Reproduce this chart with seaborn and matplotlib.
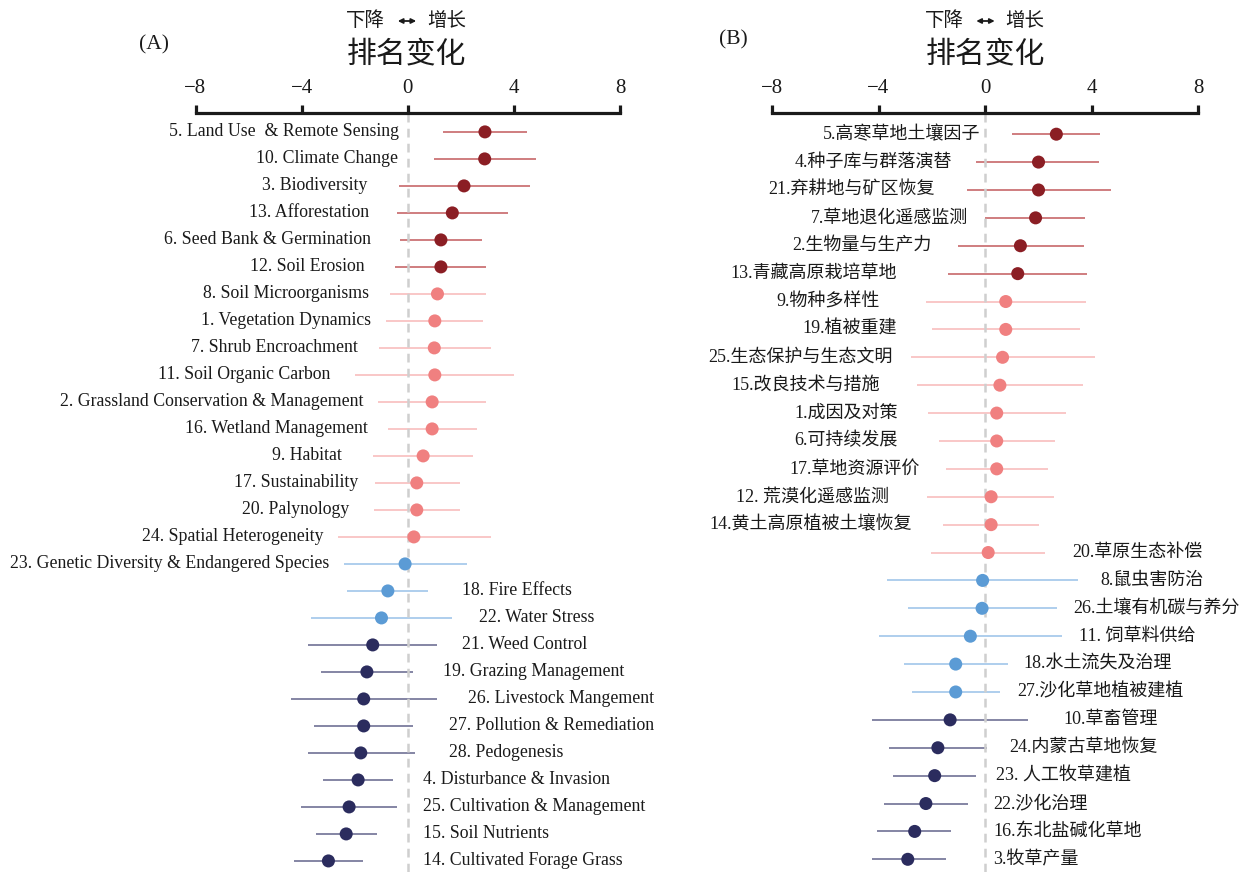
import numpy as np
import pandas as pd
import matplotlib
matplotlib.use("Agg")
import matplotlib.pyplot as plt
import seaborn as sns

# ---------------- Panel A: English-language literature ----------------
topics_a = [
    "5. Land Use  & Remote Sensing", "10. Climate Change", "3. Biodiversity",
    "13. Afforestation", "6. Seed Bank & Germination", "12. Soil Erosion",
    "8. Soil Microorganisms", "1. Vegetation Dynamics", "7. Shrub Encroachment",
    "11. Soil Organic Carbon", "2. Grassland Conservation & Management",
    "16. Wetland Management", "9. Habitat", "17. Sustainability", "20. Palynology",
    "24. Spatial Heterogeneity", "23. Genetic Diversity & Endangered Species",
    "18. Fire Effects", "22. Water Stress", "21. Weed Control",
    "19. Grazing Management", "26. Livestock Mangement", "27. Pollution & Remediation",
    "28. Pedogenesis", "4. Disturbance & Invasion", "25. Cultivation & Management",
    "15. Soil Nutrients", "14. Cultivated Forage Grass",
]
rank_a = [2.91, 2.90, 2.12, 1.68, 1.25, 1.25, 1.12, 1.02, 1.00, 1.02, 0.92, 0.92,
          0.58, 0.34, 0.34, 0.23, -0.10, -0.75, -0.99, -1.32, -1.54, -1.66, -1.66,
          -1.77, -1.87, -2.21, -2.32, -2.99]
low_a = [1.33, 0.98, -0.33, -0.40, -0.29, -0.48, -0.68, -0.82, -1.09, -1.97, -1.14,
         -0.76, -1.30, -1.24, -1.27, -2.64, -2.41, -2.30, -3.65, -3.77, -3.26, -4.41,
         -3.53, -3.77, -3.20, -4.03, -3.47, -4.29]
high_a = [4.48, 4.85, 4.60, 3.78, 2.79, 2.96, 2.95, 2.85, 3.13, 4.02, 2.96, 2.60,
          2.47, 1.96, 1.98, 3.14, 2.22, 0.78, 1.68, 1.12, 0.18, 1.12, 0.21, 0.26,
          -0.54, -0.39, -1.17, -1.67]
group_a = ["up_sig"] * 6 + ["up"] * 10 + ["down"] * 3 + ["down_sig"] * 9

# ---------------- Panel B: Chinese-language literature ----------------
topics_b = [
    "5.高寒草地土壤因子", "4.种子库与群落演替", "21.弃耕地与矿区恢复", "7.草地退化遥感监测",
    "2.生物量与生产力", "13.青藏高原栽培草地", "9.物种多样性", "19.植被重建",
    "25.生态保护与生态文明", "15.改良技术与措施", "1.成因及对策", "6.可持续发展",
    "17.草地资源评价", "12. 荒漠化遥感监测", "14.黄土高原植被土壤恢复", "20.草原生态补偿",
    "8.鼠虫害防治", "26.土壤有机碳与养分", "11. 饲草料供给", "18.水土流失及治理",
    "27.沙化草地植被建植", "10.草畜管理", "24.内蒙古草地恢复", "23. 人工牧草建植",
    "22.沙化治理", "16.东北盐碱化草地", "3.牧草产量",
]
rank_b = [2.68, 2.01, 2.01, 1.90, 1.33, 1.23, 0.78, 0.78, 0.66, 0.56, 0.44, 0.44,
          0.44, 0.23, 0.23, 0.12, -0.09, -0.11, -0.55, -1.10, -1.10, -1.31, -1.77,
          -1.89, -2.22, -2.64, -2.90]
low_b = [1.00, -0.32, -0.68, 0.00, -1.03, -1.38, -2.21, -2.00, -2.77, -2.55, -2.15,
         -1.72, -1.45, -2.16, -1.57, -2.01, -3.69, -2.91, -3.99, -3.06, -2.75, -4.26,
         -3.59, -3.44, -3.80, -4.04, -4.26]
high_b = [4.33, 4.30, 4.72, 3.76, 3.73, 3.84, 3.79, 3.56, 4.12, 3.68, 3.05, 2.64,
          2.35, 2.61, 2.04, 2.26, 3.50, 2.70, 2.90, 0.87, 0.55, 1.61, 0.07, -0.33,
          -0.62, -1.26, -1.48]
group_b = ["up_sig"] * 6 + ["up"] * 10 + ["down"] * 5 + ["down_sig"] * 6

# ---------------- styling ----------------
dot_colors = {"up_sig": "#8B1E24", "up": "#F08080", "down": "#5B9BD5", "down_sig": "#2B2C5E"}
line_colors = {"up_sig": "#C25A5C", "up": "#F8B8B8", "down": "#98C1E8", "down_sig": "#63648C"}

# label anchors (x in data units) and alignment split
label_x_a = [-0.33, -0.37, -1.54, -1.46, -1.37, -1.62, -1.46, -1.39, -1.87, -2.93,
             -1.68, -1.51, -2.49, -1.88, -2.22, -3.16, -2.95,
             2.03, 2.69, 2.03, 1.34, 2.27, 1.56, 1.56, 0.59, 0.59, 0.59, 0.59]
n_right_a = 17
label_x_b = [-0.17, -1.23, -1.90, -0.63, -2.00, -3.32, -3.97, -3.32, -3.47, -3.93,
             -3.28, -3.28, -2.44, -3.59, -2.74,
             3.26, 4.34, 3.33, 3.53, 1.46, 1.21, 2.94, 0.92, 0.42, 0.32, 0.32, 0.32]
n_right_b = 15

sns.set_theme(style="white")
plt.rcParams["font.family"] = ["Liberation Serif", "Noto Sans CJK SC", "DejaVu Sans"]
plt.rcParams["axes.unicode_minus"] = True

W, H = 1246, 872
fig = plt.figure(figsize=(W / 100, H / 100), dpi=100)


def draw_panel(ax, topics, rank, low, high, group, label_x, n_right, fsize, top_pad, bottom_pad):
    n = len(topics)
    df = pd.DataFrame({"topic": topics, "rank": rank, "low": low, "high": high,
                       "group": group, "pos": np.arange(n)})
    ax.hlines(df["pos"], df["low"], df["high"],
              colors=[line_colors[g] for g in df["group"]], lw=1.1, zorder=1)
    ax.axvline(0, color="#cfcfcf", lw=1.8, ls=(0, (3.5, 2.5)), zorder=2)
    sns.scatterplot(data=df, x="rank", y="pos", hue="group", palette=dot_colors,
                    s=88, edgecolor="none", linewidth=0, legend=False, ax=ax, zorder=3)
    for i, (t, lx) in enumerate(zip(topics, label_x)):
        ax.text(lx, i, t, ha="right" if i < n_right else "left", va="center",
                fontsize=fsize, color="#1a1a1a", clip_on=False)
    ax.set_xlim(-8, 8)
    ax.set_ylim(n - 1 + bottom_pad, -top_pad)
    ax.set_xlabel("")
    ax.set_ylabel("")
    ax.set_yticks([])
    ax.set_xticks([-8, -4, 0, 4, 8])
    ax.set_xticklabels(["\u22128", "\u22124", "0", "4", "8"])
    for side in ["left", "right", "bottom"]:
        ax.spines[side].set_visible(False)
    ax.spines["top"].set_linewidth(2.3)
    ax.spines["top"].set_color("#1a1a1a")
    ax.xaxis.set_ticks_position("top")
    ax.xaxis.set_label_position("top")
    ax.tick_params(axis="x", which="both", top=True, bottom=False, labeltop=True,
                   labelbottom=False, direction="out", length=5.5, width=2.3,
                   color="#1a1a1a", pad=5, labelsize=15, labelcolor="#1a1a1a")
    ax.patch.set_alpha(0)


top_frac = 1 - 113 / H
ax_a = fig.add_axes([195.5 / W, 0, (620 - 195.5) / W, top_frac])
ax_b = fig.add_axes([772 / W, 0, (1198 - 772) / W, top_frac])

draw_panel(ax_a, topics_a, rank_a, low_a, high_a, group_a, label_x_a, n_right_a, 12.8, 0.70, 0.41)
draw_panel(ax_b, topics_b, rank_b, low_b, high_b, group_b, label_x_b, n_right_b, 13.0, 0.76, 0.455)

cjk = ["Noto Sans CJK SC", "DejaVu Sans"]
for cx, tag, tx, ty in [(407, "(A)", 154, 45), (985.5, "(B)", 733, 40)]:
    y_top = 1 - 21 / H
    fig.text((cx - 22) / W, y_top, "下降", ha="right", va="center",
             fontsize=14, family=cjk, color="#1a1a1a")
    fig.text((cx + 20) / W, y_top, "增长", ha="left", va="center",
             fontsize=14, family=cjk, color="#1a1a1a")
    fig.patches.append(matplotlib.patches.FancyArrowPatch(
        ((cx - 12) / W, y_top), ((cx + 12) / W, y_top), transform=fig.transFigure,
        arrowstyle="<|-|>", mutation_scale=7, lw=1.3, color="#1a1a1a"))
    fig.text(cx / W, 1 - 55 / H, "排名变化", ha="center", va="center",
             fontsize=21.5, family=cjk, color="#1a1a1a")
    fig.text(tx / W, 1 - ty / H, tag, ha="center", va="center",
             fontsize=15.5, family="Liberation Serif", color="#1a1a1a")

fig.savefig("out.png", dpi=100)
